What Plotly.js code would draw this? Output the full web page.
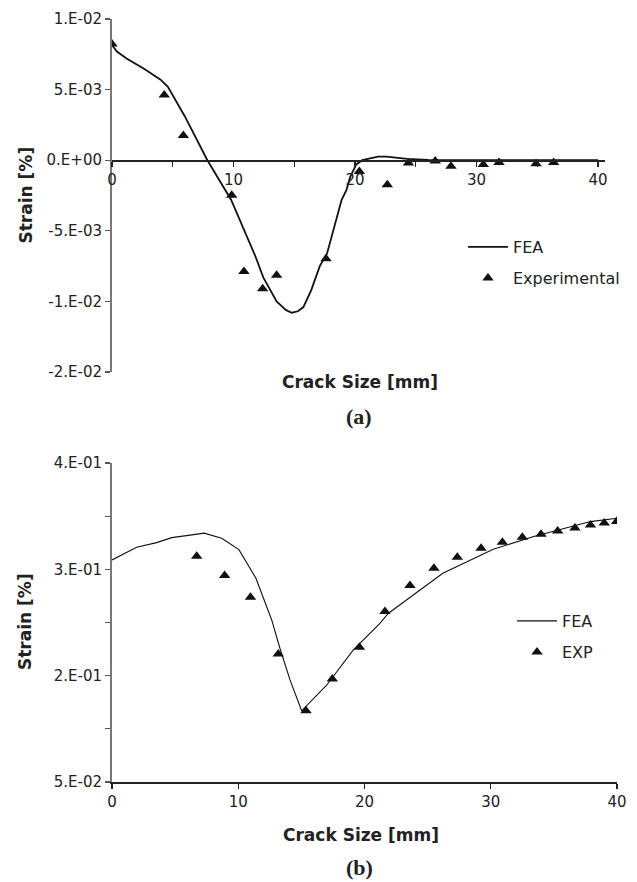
<!DOCTYPE html>
<html>
<head>
<meta charset="utf-8">
<script src="https://cdn.plot.ly/plotly-3.0.1.min.js"></script>
<style>html,body{margin:0;padding:0;background:#fff;}#chart{width:637px;height:882px;}</style>
</head>
<body>
<div id="chart"></div>
<script>
// ---- Panel (a) data ----
var feaA_x = [0, 0.4, 1.2, 2.6, 4.0, 4.6, 6.0, 7.85, 9.8, 10.5, 11.8, 12.45, 13.55, 14.3, 14.8, 15.3, 15.75, 16.4, 17.1, 17.7, 18.9, 19.3, 19.6, 20.1, 20.6, 21.9, 22.6, 24.3, 26, 30, 35, 40];
var feaA_y = [0.00815, 0.0077, 0.0072, 0.0065, 0.0057, 0.0052, 0.0031, 0.0, -0.0028, -0.0042, -0.0068, -0.0083, -0.0100, -0.0106, -0.0108, -0.0107, -0.0104, -0.0092, -0.0075, -0.0066, -0.0028, -0.0021, -0.0012, -0.0003, 0.0, 0.00025, 0.00025, 0.0001, 0.00002, 0, 0, 0];
var expA_x = [0, 4.3, 5.87, 9.85, 10.86, 12.4, 13.55, 17.62, 20.36, 22.66, 24.4, 26.6, 27.9, 30.56, 31.85, 34.9, 36.35];
var expA_y = [0.00823, 0.00462, 0.00175, -0.00249, -0.00788, -0.0091, -0.00815, -0.00698, -0.0008, -0.00174, -0.00019, -0.00005, -0.00042, -0.0003, -0.00016, -0.00026, -0.00016];
var yTickValsA = [-0.015, -0.01, -0.005, 0, 0.005, 0.01];
var yTickTextA = ['-2.E-02', '-1.E-02', '-5.E-03', '0.E+00', '5.E-03', '1.E-02'];

// ---- Panel (b) data ----
var feaB_x = [0, 1.95, 3.54, 4.73, 5.9, 7.3, 8.69, 10.05, 11.4, 12.65, 13.3, 14.1, 15.02, 15.55, 17.0, 19.1, 21.2, 21.9, 26.2, 30.2, 33.4, 37.9, 40];
var feaB_y = [0.2588, 0.2708, 0.2751, 0.2798, 0.2817, 0.2840, 0.2793, 0.2685, 0.2416, 0.2024, 0.1758, 0.146, 0.117, 0.1234, 0.141, 0.174, 0.199, 0.2087, 0.2463, 0.2689, 0.2808, 0.2949, 0.298];
var expB_x = [6.71, 8.92, 10.97, 13.17, 15.37, 17.45, 19.6, 21.62, 23.6, 25.5, 27.35, 29.23, 30.92, 32.5, 33.98, 35.3, 36.67, 37.9, 38.99, 39.97];
var expB_y = [0.2623, 0.2441, 0.2237, 0.1704, 0.1171, 0.1468, 0.1767, 0.2103, 0.2347, 0.2510, 0.2613, 0.2698, 0.2755, 0.2802, 0.2830, 0.2861, 0.2889, 0.2917, 0.2936, 0.2949];
var yTickValsB = [0.05, 0.10, 0.15, 0.20, 0.25, 0.30, 0.35];
var yTickTextB = ['5.E-02', '', '2.E-01', '', '3.E-01', '', '4.E-01'];

var xTitle = 'Crack Size [mm]';
var yTitle = 'Strain [%]';

// ---- layout geometry ----
var W = 637, H = 882;
var M = {l: 112, r: 20, t: 19, b: 100};
var PW = W - M.l - M.r, PH = H - M.t - M.b;
function px2paperY(py) { return (H - M.b - py) / PH; }
function px2paperX(px) { return (px - M.l) / PW; }

var domYA = [px2paperY(372), 1];
var domYB = [0, px2paperY(463)];
var rangeYA = [-0.015, 0.01];
var rangeYB = [0.05, 0.35];
// top x-axis crosses at y = 0
var xPosA = domYA[0] + (0 - rangeYA[0]) / (rangeYA[1] - rangeYA[0]) * (domYA[1] - domYA[0]);

var tickFont = {family: 'DejaVu Sans, sans-serif', size: 15, color: '#222'};
var legFont = {family: 'DejaVu Sans, sans-serif', size: 16, color: '#222'};
var titleFont = {family: 'DejaVu Sans, sans-serif', size: 17, color: '#222', weight: 'bold'};
var capFont = {family: 'Liberation Serif, serif', size: 22, color: '#222', weight: 'bold'};

var traces = [
  {x: feaA_x, y: feaA_y, type: 'scatter', mode: 'lines', name: 'FEA', xaxis: 'x', yaxis: 'y',
   line: {color: '#111', width: 1.8}, legend: 'legend'},
  {x: expA_x, y: expA_y, type: 'scatter', mode: 'markers', name: 'Experimental', xaxis: 'x', yaxis: 'y',
   marker: {symbol: 'triangle-up', size: 10, color: '#111'}, legend: 'legend2'},
  {x: feaB_x, y: feaB_y, type: 'scatter', mode: 'lines', name: 'FEA', xaxis: 'x2', yaxis: 'y2',
   line: {color: '#111', width: 1.1}, legend: 'legend3'},
  {x: expB_x, y: expB_y, type: 'scatter', mode: 'markers', name: 'EXP', xaxis: 'x2', yaxis: 'y2',
   marker: {symbol: 'triangle-up', size: 10, color: '#111'}, legend: 'legend4'}
];

function leg(px, py) {
  return {x: px2paperX(px), y: px2paperY(py), xref: 'paper', yref: 'paper', xanchor: 'left', yanchor: 'middle',
          bgcolor: 'rgba(0,0,0,0)', borderwidth: 0, font: legFont, itemwidth: 40};
}

var layout = {
  width: W, height: H,
  margin: M,
  paper_bgcolor: '#fff', plot_bgcolor: '#fff',
  showlegend: true,
  xaxis: {domain: [0, px2paperX(605)], range: [0, 40 * (605 - 112) / (598 - 112)], anchor: 'free', position: xPosA,
          showline: true, linecolor: '#222', linewidth: 1.5, ticks: 'outside', ticklen: 5, tickcolor: '#222', tickwidth: 1.2,
          tick0: 0, dtick: 10, minor: {dtick: 5, ticks: 'outside', ticklen: 5, tickcolor: '#222', tickwidth: 1.2, showgrid: false},
          showgrid: false, zeroline: false, tickfont: tickFont, fixedrange: true},
  yaxis: {domain: domYA, range: rangeYA, anchor: 'x',
          tickmode: 'array', tickvals: yTickValsA, ticktext: yTickTextA,
          showline: true, linecolor: '#777', linewidth: 2, ticks: 'outside', ticklen: 5, tickcolor: '#555', tickwidth: 1.2,
          showgrid: false, zeroline: false, tickfont: tickFont, fixedrange: true},
  xaxis2: {domain: [0, 1], range: [0, 40], anchor: 'y2',
          showline: true, linecolor: '#222', linewidth: 1.5, ticks: 'outside', ticklen: 5, tickcolor: '#222', tickwidth: 1.2,
          tick0: 0, dtick: 10, showgrid: false, zeroline: false, tickfont: tickFont, fixedrange: true},
  yaxis2: {domain: domYB, range: rangeYB, anchor: 'x2',
          tickmode: 'array', tickvals: yTickValsB, ticktext: yTickTextB,
          showline: true, linecolor: '#777', linewidth: 2, ticks: 'outside', ticklen: 5, tickcolor: '#555', tickwidth: 1.2,
          showgrid: false, zeroline: false, tickfont: tickFont, fixedrange: true},
  legend: leg(463, 247),
  legend2: leg(463, 278),
  legend3: leg(512, 621),
  legend4: leg(512, 652),
  annotations: [
    {text: yTitle, xref: 'paper', yref: 'paper', x: px2paperX(25), y: px2paperY(195.5), textangle: -90,
     showarrow: false, xanchor: 'center', yanchor: 'middle', font: titleFont},
    {text: yTitle, xref: 'paper', yref: 'paper', x: px2paperX(25), y: px2paperY(622), textangle: -90,
     showarrow: false, xanchor: 'center', yanchor: 'middle', font: titleFont},
    {text: xTitle, xref: 'paper', yref: 'paper', x: px2paperX(359.5), y: px2paperY(382),
     showarrow: false, xanchor: 'center', yanchor: 'middle', font: titleFont},
    {text: xTitle, xref: 'paper', yref: 'paper', x: px2paperX(361), y: px2paperY(835),
     showarrow: false, xanchor: 'center', yanchor: 'middle', font: titleFont},
    {text: '(a)', xref: 'paper', yref: 'paper', x: px2paperX(359), y: px2paperY(417),
     showarrow: false, xanchor: 'center', yanchor: 'middle', font: capFont},
    {text: '(b)', xref: 'paper', yref: 'paper', x: px2paperX(359), y: px2paperY(867.5),
     showarrow: false, xanchor: 'center', yanchor: 'middle', font: capFont}
  ]
};

Plotly.newPlot('chart', traces, layout, {displayModeBar: false, staticPlot: true});
</script>
</body>
</html>
